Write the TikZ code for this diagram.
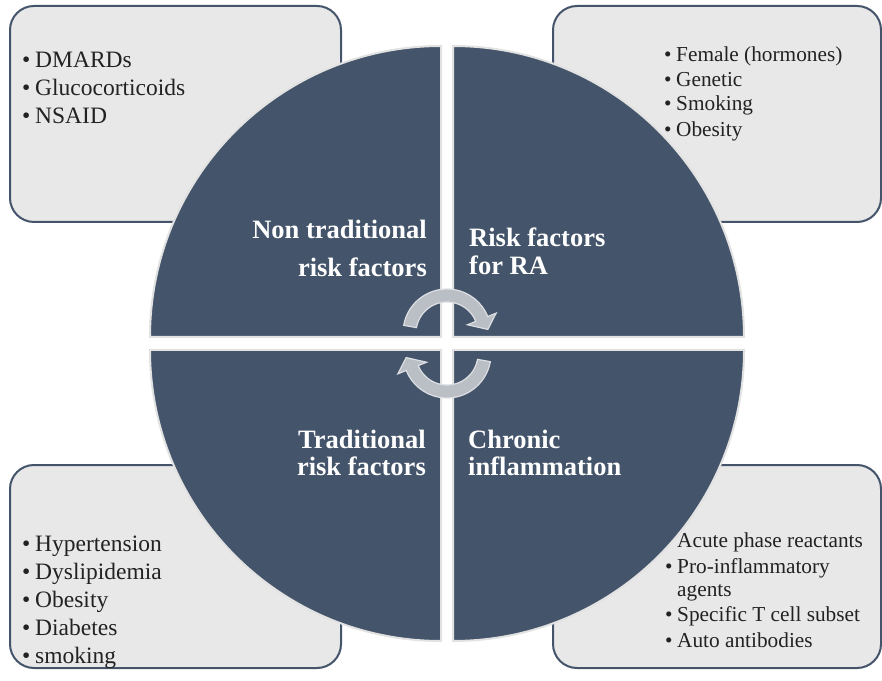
\documentclass[tikz,border=0pt]{standalone}
\usepackage{fontspec}
\setmainfont{Liberation Serif}
\definecolor{slate}{HTML}{44546A}
\definecolor{boxfill}{HTML}{E8E8E8}
\definecolor{qedge}{HTML}{E2E2E2}
\definecolor{arrfill}{HTML}{BABEC5}
\definecolor{arredge}{HTML}{DDDFE2}
\definecolor{itemtext}{HTML}{222222}
\newcommand\mycycarrow{%
  \path[cyc] ([shift={(170:44)}]447,347) arc[start angle=170, end angle=22, radius=44]
  -- ([shift={(22:53)}]447,347) -- ([shift={(5:41)}]447,347) -- ([shift={(22:22)}]447,347)
  -- ([shift={(22:31)}]447,347) arc[start angle=22, end angle=170, radius=31] -- cycle;}
\begin{document}
\begin{tikzpicture}[x=1pt,y=1pt,
  infobox/.style={draw=slate, line width=2pt, fill=boxfill, rounded corners=24pt},
  quad/.style={fill=slate, draw=qedge, line width=2pt},
  qlabel/.style={text=white, font=\fontsize{26.5}{30}\selectfont\bfseries, inner sep=0pt},
  itemA/.style={font=\fontsize{23.5}{28}\selectfont, inner sep=0pt, text=itemtext},
  itemB/.style={font=\fontsize{21.3}{25}\selectfont, inner sep=0pt, text=itemtext},
  cyc/.style={fill=arrfill, draw=arredge, line width=1.2pt}]
\useasboundingbox (0,0) rectangle (882,680);
\fill[white] (0,0) rectangle (882,680);

% corner boxes
\draw[infobox] (10,458) rectangle (341,674);
\draw[infobox] (553,458) rectangle (881,674);
\draw[infobox] (10,12) rectangle (341,215);
\draw[infobox] (553,12) rectangle (881,215);

% top-left list
\node[itemA, anchor=base west] (tlb1) at (22,612) {•};
\node[itemA, anchor=base west] (tl1) at (35,612) {DMARDs};
\node[itemA, anchor=base west] (tlb2) at (22,584) {•};
\node[itemA, anchor=base west] (tl2) at (35,584) {Glucocorticoids};
\node[itemA, anchor=base west] (tlb3) at (22,556) {•};
\node[itemA, anchor=base west] (tl3) at (35,556) {NSAID};

% top-right list
\node[itemB, anchor=base west] (trb1) at (664,618) {•};
\node[itemB, anchor=base west] (tr1) at (676,618) {Female (hormones)};
\node[itemB, anchor=base west] (trb2) at (664,593) {•};
\node[itemB, anchor=base west] (tr2) at (676,593) {Genetic};
\node[itemB, anchor=base west] (trb3) at (664,569) {•};
\node[itemB, anchor=base west] (tr3) at (676,569) {Smoking};
\node[itemB, anchor=base west] (trb4) at (664,543) {•};
\node[itemB, anchor=base west] (tr4) at (676,543) {Obesity};

% bottom-left list
\node[itemA, anchor=base west] (blb1) at (22,129) {•};
\node[itemA, anchor=base west] (bl1) at (35,129) {Hypertension};
\node[itemA, anchor=base west] (blb2) at (22,101) {•};
\node[itemA, anchor=base west] (bl2) at (35,101) {Dyslipidemia};
\node[itemA, anchor=base west] (blb3) at (22,73) {•};
\node[itemA, anchor=base west] (bl3) at (35,73) {Obesity};
\node[itemA, anchor=base west] (blb4) at (22,45) {•};
\node[itemA, anchor=base west] (bl4) at (35,45) {Diabetes};
\node[itemA, anchor=base west] (blb5) at (22,17) {•};
\node[itemA, anchor=base west] (bl5) at (35,17) {smoking};

% bottom-right list
\node[itemB, anchor=base west] (brb1) at (665,133) {•};
\node[itemB, anchor=base west] (br1) at (677,133) {Acute phase reactants};
\node[itemB, anchor=base west] (brb2) at (665,107) {•};
\node[itemB, anchor=base west] (br2) at (677,107) {Pro-inflammatory};
\node[itemB, anchor=base west] (br2b) at (677,84) {agents};
\node[itemB, anchor=base west] (brb3) at (665,59) {•};
\node[itemB, anchor=base west] (br3) at (677,59) {Specific T cell subset};
\node[itemB, anchor=base west] (brb4) at (665,33) {•};
\node[itemB, anchor=base west] (br4) at (677,33) {Auto antibodies};

% quadrants
\draw[quad] (441,343) -- (150,343) arc[start angle=180, end angle=90, radius=291] -- cycle;
\draw[quad] (453,343) -- (453,634) arc[start angle=90, end angle=0, radius=291] -- cycle;
\draw[quad] (453,330) -- (744,330) arc[start angle=0, end angle=-90, radius=291] -- cycle;
\draw[quad] (441,330) -- (441,39) arc[start angle=270, end angle=180, radius=291] -- cycle;

% quadrant labels
\node[qlabel, anchor=base east] (q1a) at (427,441) {Non traditional};
\node[qlabel, anchor=base east] (q1b) at (427,403) {risk factors};
\node[qlabel, anchor=base west] (q2a) at (469,433) {Risk factors};
\node[qlabel, anchor=base west] (q2b) at (469,405) {for RA};
\node[qlabel, anchor=base east] (q3a) at (426,232) {Traditional};
\node[qlabel, anchor=base east] (q3b) at (426,205) {risk factors};
\node[qlabel, anchor=base west] (q4a) at (468,232) {Chronic};
\node[qlabel, anchor=base west] (q4b) at (468,205) {inflammation};

% circular arrows
\mycycarrow
\begin{scope}[rotate around={180:(447,336.5)}]
\mycycarrow
\end{scope}
\end{tikzpicture}
\end{document}
